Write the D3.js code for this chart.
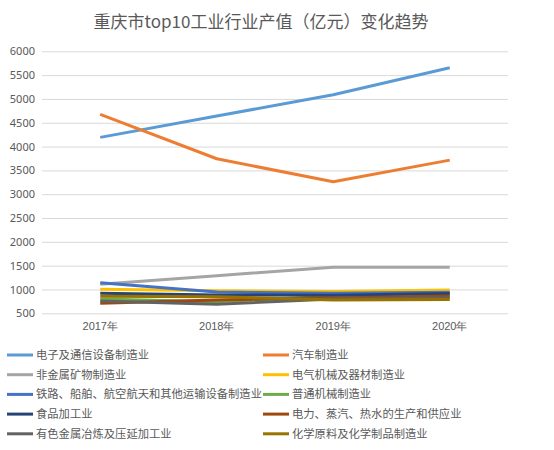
<!DOCTYPE html>
<html><head><meta charset="utf-8">
<script src="https://cdn.jsdelivr.net/npm/d3@7"></script>
<style>body{margin:0;background:#fff;font-family:"Noto Sans CJK SC","Noto Sans",sans-serif;}</style>
</head><body><svg id="c" width="554" height="450"></svg>
<script>
const years = ["2017年","2018年","2019年","2020年"];
const yTicks = [500,1000,1500,2000,2500,3000,3500,4000,4500,5000,5500,6000];
const seriesNames = ["电子及通信设备制造业","汽车制造业","非金属矿物制造业","电气机械及器材制造业","铁路、船舶、航空航天和其他运输设备制造业","普通机械制造业","食品加工业","电力、蒸汽、热水的生产和供应业","有色金属冶炼及压延加工业","化学原料及化学制品制造业"];
const colors = ["#5B9BD5","#ED7D31","#A5A5A5","#FFC000","#4472C4","#70AD47","#264478","#9E480E","#636363","#997300"];
const electronics = [4193,4641,5088,5656];
const auto = [4676,3744,3261,3716];
const nonMetal = [1110,1290,1466,1466];
const electrical = [1004,975,960,990];
const railway = [1140,947,920,941];
const machinery = [800,744,860,899];
const food = [920,884,880,915];
const power = [710,780,820,863];
const nonFerrous = [758,689,800,828];
const chemical = [857,849,780,790];
const values = [electronics,auto,nonMetal,electrical,railway,machinery,food,power,nonFerrous,chemical];

const svg = d3.select("#c");
const x = d3.scaleBand().domain(years).range([42,508]);
const y = d3.scaleLinear().domain([500,6000]).range([313.3,51.3]);

svg.append("text").attr("x",261).attr("y",28).attr("text-anchor","middle")
  .attr("font-size",17).attr("fill","#595959").text("重庆市top10工业行业产值（亿元）变化趋势");

const ga = svg.append("g").attr("transform","translate(42,0)")
  .call(d3.axisLeft(y).tickValues(yTicks).tickSize(-466).tickPadding(7).tickFormat(d3.format("d")));
ga.select(".domain").remove();
ga.selectAll(".tick line").attr("stroke","#D9D9D9");
ga.selectAll(".tick text").attr("fill","#595959").attr("font-size",11).attr("font-family","Noto Sans, sans-serif");

const gx = svg.append("g").attr("transform","translate(0,313.3)")
  .call(d3.axisBottom(x).tickSize(0).tickPadding(9));
gx.select(".domain").remove();
gx.selectAll(".tick text").attr("fill","#595959").attr("font-size",11);

const line = d3.line().x((d,i)=>x(years[i])+x.bandwidth()/2).y(d=>y(d));
values.forEach((v,i)=>{
  svg.append("path").attr("d",line(v)).attr("fill","none").attr("stroke",colors[i])
    .attr("stroke-width",3).attr("stroke-linejoin","round");
});

const lg = svg.append("g");
seriesNames.forEach((n,i)=>{
  const col = i%2, row = Math.floor(i/2);
  const lx = col===0 ? 7 : 263, ly = 355 + row*19.7;
  lg.append("line").attr("x1",lx).attr("x2",lx+26).attr("y1",ly).attr("y2",ly)
    .attr("stroke",colors[i]).attr("stroke-width",3);
  lg.append("text").attr("x",lx+29).attr("y",ly+4).attr("font-size",11.3).attr("fill","#595959").text(n);
});
</script></body></html>
